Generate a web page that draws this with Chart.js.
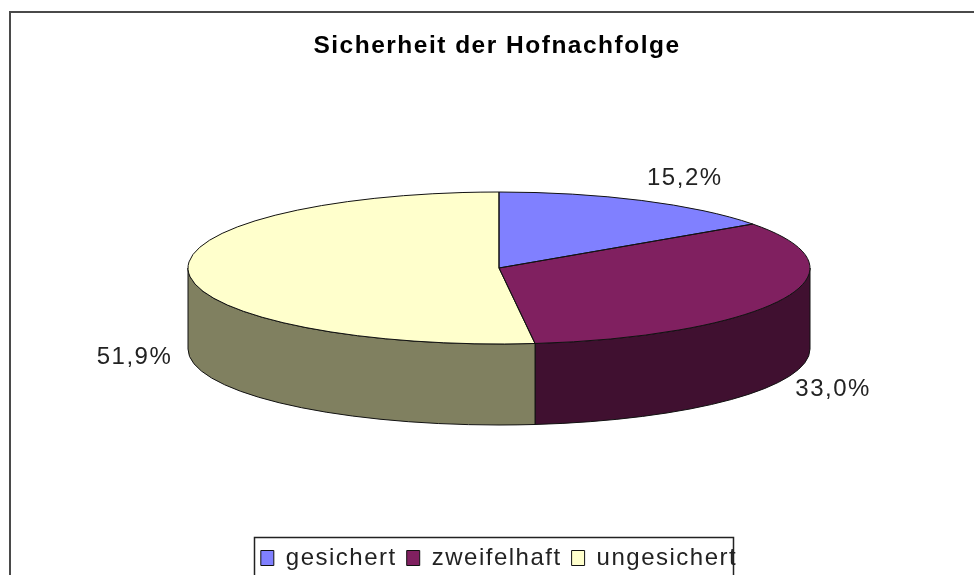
<!DOCTYPE html>
<html lang="de">
<head>
<meta charset="utf-8">
<title>Sicherheit der Hofnachfolge</title>
<script src="https://cdn.jsdelivr.net/npm/chart.js@4"></script>
<style>
html,body{margin:0;padding:0;background:#fff;width:974px;height:575px;overflow:hidden}
canvas{display:block}
</style>
</head>
<body>
<canvas id="c" width="974" height="580"></canvas>
<script>
const titleText = 'Sicherheit der Hofnachfolge';
const categories = ['gesichert', 'zweifelhaft', 'ungesichert'];
const shares = [15.2, 33.0, 51.9];
const shareLabels = ['15,2%', '33,0%', '51,9%'];
const topColors = ['#8080FF', '#802060', '#FFFFCC'];
const wallColors = ['#404080', '#401030', '#808060'];

// Layout of the tilted pie
const CX = 499, CY = 268, RX = 311, RY = 76, DEPTH = 81;
const LABEL_OFFSETS = [[43, -22], [50, 9], [-54, 4]];
const SPACING = '1.5px';
const EDGE = '#111';

function drawWalls(ctx, arcs) {
  arcs.forEach((arc, i) => {
    const a = Math.max(arc.startAngle, 0);
    const b = Math.min(arc.endAngle, Math.PI);
    if (b <= a) return;
    ctx.beginPath();
    ctx.ellipse(CX, CY, RX, RY, 0, a, b);
    ctx.ellipse(CX, CY + DEPTH, RX, RY, 0, b, a, true);
    ctx.closePath();
    ctx.fillStyle = wallColors[i];
    ctx.fill();
    ctx.strokeStyle = EDGE;
    ctx.lineWidth = 1;
    ctx.stroke();
  });
}

const tiltedPie = {
  id: 'tiltedPie',
  beforeLayout(chart) { chart.ctx.letterSpacing = SPACING; },
  afterLayout(chart) { chart.legend.left += 2; chart.legend.right += 2; },
  beforeDraw(chart) { chart.ctx.letterSpacing = SPACING; },
  beforeDatasetsDraw(chart) {
    const ctx = chart.ctx;
    const arcs = chart.getDatasetMeta(0).data;
    drawWalls(ctx, arcs);
    const el = arcs[0];
    ctx.save();
    ctx.translate(CX, CY);
    ctx.scale(RX / el.outerRadius, RY / el.outerRadius);
    ctx.translate(-el.x, -el.y);
  },
  afterDatasetsDraw(chart) {
    const ctx = chart.ctx;
    ctx.restore();
    const arcs = chart.getDatasetMeta(0).data;
    ctx.strokeStyle = EDGE;
    ctx.lineWidth = 1;
    arcs.forEach(arc => {
      ctx.beginPath();
      ctx.moveTo(CX, CY);
      ctx.ellipse(CX, CY, RX, RY, 0, arc.startAngle, arc.endAngle);
      ctx.closePath();
      ctx.stroke();
    });
    ctx.fillStyle = '#222';
    ctx.font = '24px "Liberation Sans", Arial, sans-serif';
    ctx.textAlign = 'center';
    ctx.textBaseline = 'middle';
    arcs.forEach((arc, i) => {
      const mid = (arc.startAngle + arc.endAngle) / 2;
      const sin = Math.sin(mid);
      const x = CX + RX * Math.cos(mid) + LABEL_OFFSETS[i][0];
      const y = CY + RY * sin + (sin > 0 ? DEPTH : 0) + LABEL_OFFSETS[i][1];
      ctx.fillText(shareLabels[i], x, y);
    });
  },
  afterDraw(chart) {
    const ctx = chart.ctx, lg = chart.legend;
    ctx.save();
    ctx.strokeStyle = '#4a4a4a';
    ctx.lineWidth = 2;
    ctx.beginPath();
    ctx.moveTo(10, 600); ctx.lineTo(10, 12); ctx.lineTo(974, 12);
    ctx.stroke();
    ctx.strokeStyle = '#222';
    ctx.lineWidth = 1.5;
    ctx.beginPath();
    ctx.moveTo(254.5, 600); ctx.lineTo(254.5, lg.top + 1.5);
    ctx.lineTo(733.5, lg.top + 1.5); ctx.lineTo(733.5, 600);
    ctx.stroke();
    ctx.restore();
  }
};

new Chart(document.getElementById('c'), {
  type: 'pie',
  data: {
    labels: categories,
    datasets: [{ data: shares, backgroundColor: topColors, borderWidth: 0 }]
  },
  plugins: [tiltedPie],
  options: {
    responsive: false,
    animation: false,
    events: [],
    layout: { padding: { left: 20, right: 0, top: 0, bottom: 0 } },
    plugins: {
      title: {
        display: true,
        text: titleText,
        color: '#000',
        font: { family: '"Liberation Sans", Arial, sans-serif', size: 24.5, weight: 'bold' },
        padding: { top: 32, bottom: 10 }
      },
      tooltip: { enabled: false },
      legend: {
        display: true,
        position: 'bottom',
        labels: {
          boxWidth: 13,
          boxHeight: 15,
          padding: 10,
          color: '#222',
          font: { family: '"Liberation Sans", Arial, sans-serif', size: 24 },
          generateLabels(chart) {
            return Chart.overrides.pie.plugins.legend.labels.generateLabels(chart)
              .map(item => ({ ...item, lineWidth: 1, strokeStyle: '#111' }));
          }
        }
      }
    }
  }
});
</script>
</body>
</html>
